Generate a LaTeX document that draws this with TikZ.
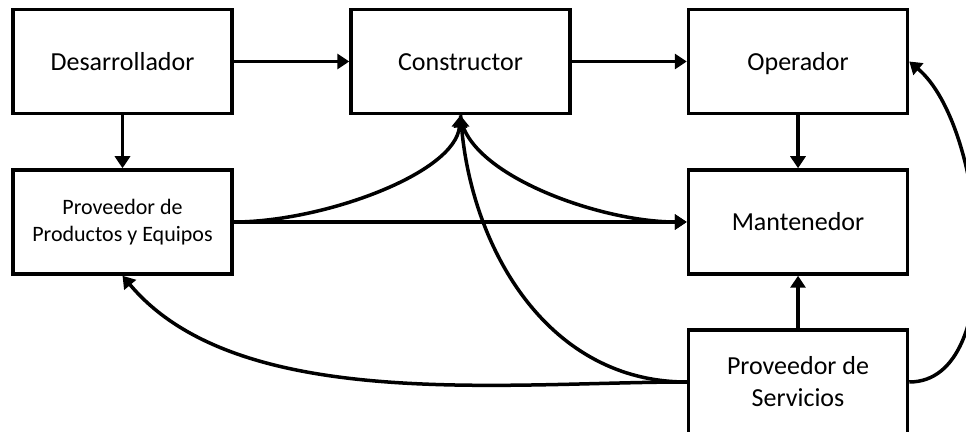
\documentclass[tikz,border=0pt]{standalone}
\usepackage{fontspec}
\setmainfont{Carlito}
\usetikzlibrary{calc, positioning}
\usetikzlibrary{arrows.meta}

\begin{document}
\begin{tikzpicture}[x=1pt, y=1pt,
  box/.style={draw, line width=3.5pt, minimum width=219pt, minimum height=104pt,
    inner sep=0pt, align=center, font=\fontsize{26}{32}\selectfont},
  onebox/.style={box, text height=18pt, text depth=0pt},
  smallbox/.style={box, font=\fontsize{22}{27}\selectfont},
  link/.style={line width=3.5pt, -{Triangle[length=12pt, width=15pt]}}]
\def\colA{122.5}
\def\colB{460.5}
\def\colC{798}
\def\rowA{369.5}
\def\rowB{209}
\def\rowC{49}

\useasboundingbox (0,0) rectangle (966,431);

\node[onebox] (des) at (\colA,\rowA) {Desarrollador};
\node[onebox] (con) at (\colB,\rowA) {Constructor};
\node[onebox] (ope) at (\colC,\rowA) {Operador};
\node[smallbox] (ppe) at (\colA,\rowB) {Proveedor de\\Productos y Equipos};
\node[onebox] (man) at (\colC,\rowB) {Mantenedor};
\node[box] (ser) at (\colC,\rowC) {Proveedor de\\Servicios};

% straight links
\draw[link] (des) -- (con);
\draw[link] (con) -- (ope);
\draw[link] (des) -- (ppe);
\draw[link] (ope) -- (man);
\draw[link] (ser) -- (man);
\draw[link] (ppe.east) -- (man.west);

% curved links
\draw[link] (ppe.east) to[out=0, in=-95, out looseness=0.9, in looseness=0.6] (con.south);
\draw[link] (con.south) to[out=-85, in=180, out looseness=0.6, in looseness=0.9] (man.west);
\draw[link] (ser.west) to[out=180, in=-85] (con.south);
\draw[link] (ser.west) to[out=180, in=-50, looseness=0.8] (ppe.south);
\draw[link] (ser.east) to[out=0, in=-40, looseness=0.8] (ope.east);
\end{tikzpicture}
\end{document}
